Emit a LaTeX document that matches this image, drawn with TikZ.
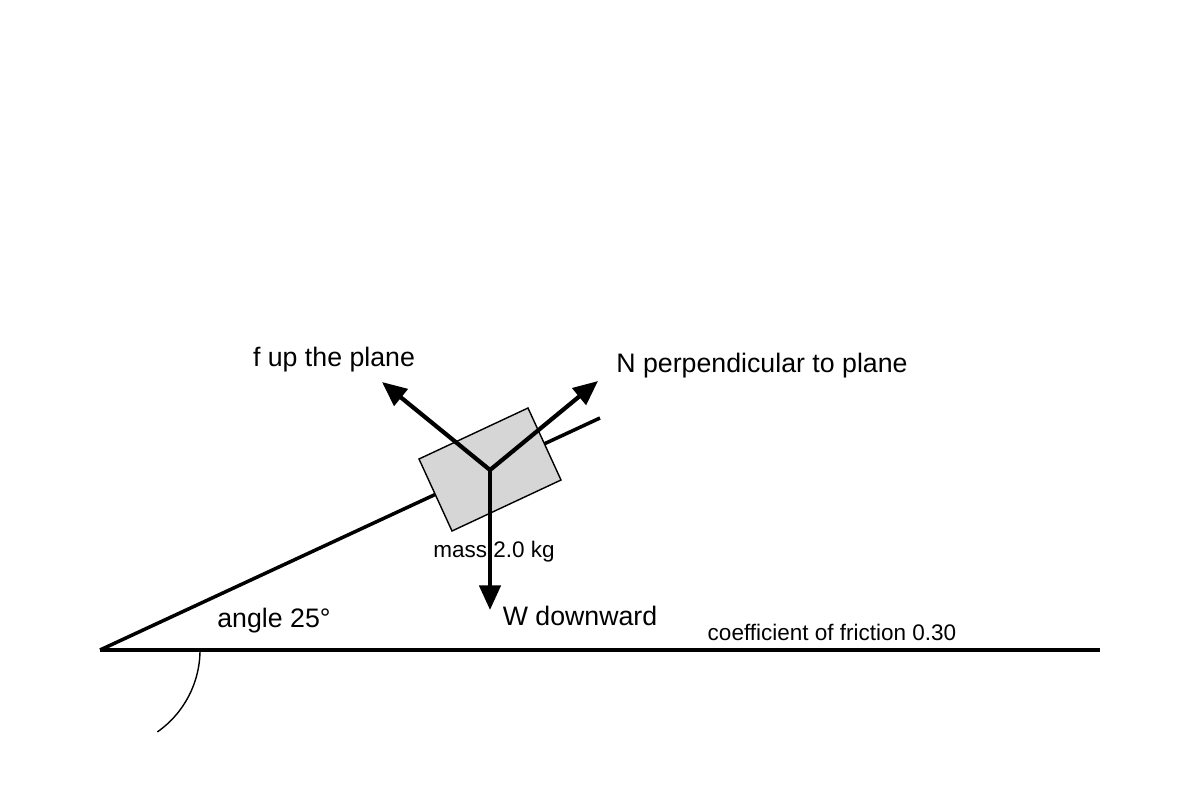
\documentclass[tikz,border=0pt]{standalone}
\usepackage{fontspec}
\setmainfont{Liberation Sans}
\usetikzlibrary{arrows.meta}
\begin{document}
\begin{tikzpicture}[x=0.01cm,y=-0.01cm,
  force/.style = {line width=1.2pt, -{Triangle[length=7pt,width=6pt]}},
  big/.style = {font=\fontsize{7.6pt}{9pt}\selectfont},
  small/.style = {font=\fontsize{6.4pt}{8pt}\selectfont}]
\useasboundingbox (0,0) rectangle (1200,800);
% ground and incline
\coordinate (o) at (100,650);
\coordinate (g) at (1100,650);
\coordinate (top) at (600,418);
\draw[line width=1pt] (o) -- (g);
\draw[line width=1pt] (o) -- (top);
\draw (200,650) arc[start angle=0, end angle=55, radius=100];
% block
\draw[fill=black!16] (419,459) -- (528,408) -- (561,480) -- (452,531) -- cycle;
\coordinate (c) at (490,470);
\coordinate (w) at (490,610);
\coordinate (f) at (382,382);
\coordinate (n) at (598,381);
\draw[force] (c) -- (w);
\draw[force] (c) -- (f);
\draw[force] (c) -- (n);
% labels
\node[big] (fl) at (334,360) {f up the plane};
\node[big] (nl) at (762,366) {N perpendicular to plane};
\node[small] (ml) at (494,552) {mass 2.0 kg};
\node[big] (wl) at (580,616) {W downward};
\node[big] (al) at (274,621) {angle 25°};
\node[small] (cl) at (832,632) {coefficient of friction 0.30};
\end{tikzpicture}
\end{document}
